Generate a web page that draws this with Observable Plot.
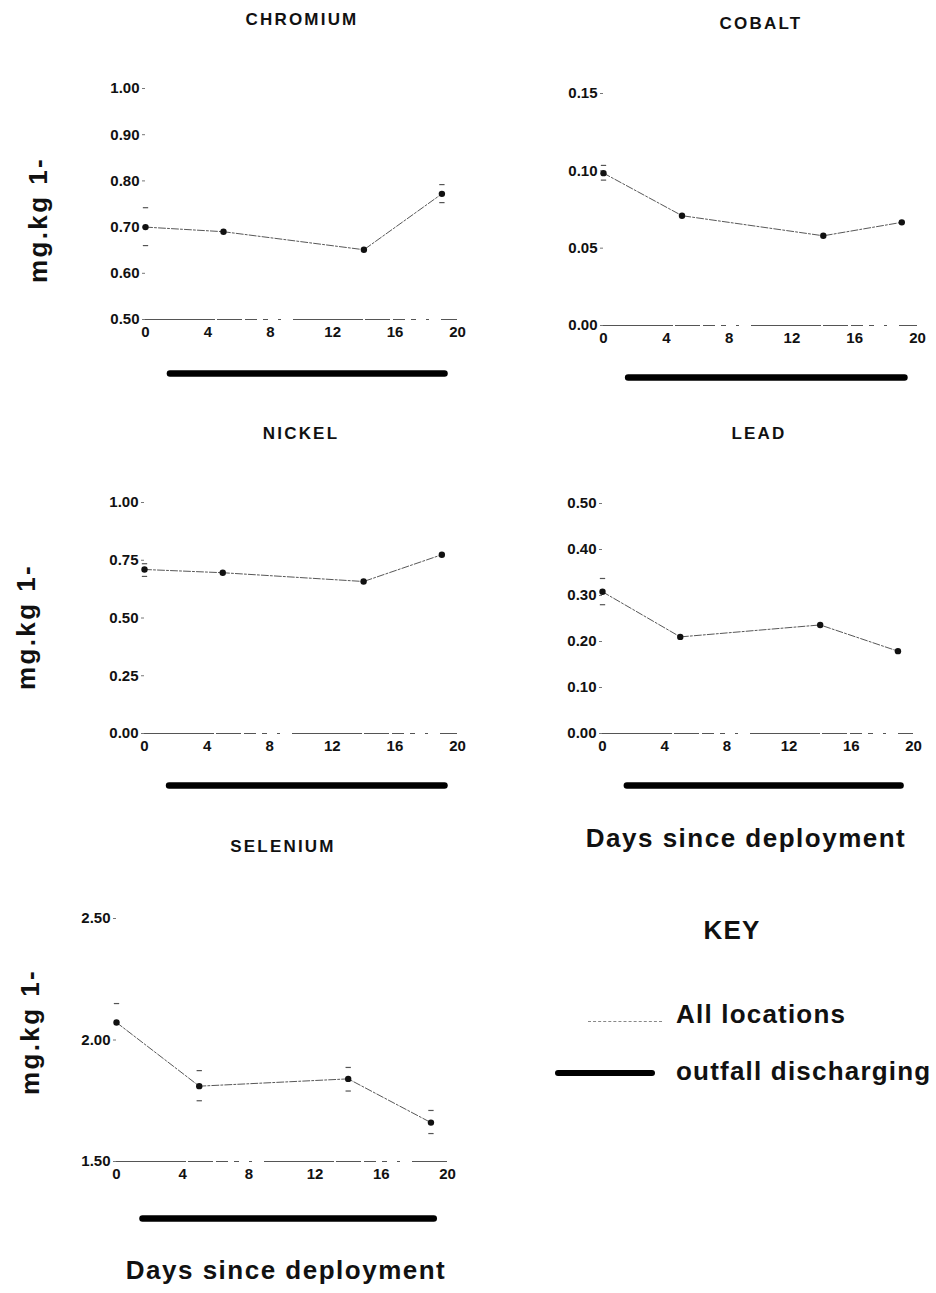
<!DOCTYPE html>
<html>
<head>
<meta charset="utf-8">
<script src="https://cdn.jsdelivr.net/npm/d3@7"></script>
<script src="https://cdn.jsdelivr.net/npm/@observablehq/plot@0.6"></script>
<style>
  html, body { margin: 0; padding: 0; background: #fff; }
  #page { position: relative; width: 936px; height: 1293px; background: #fff; overflow: hidden;
          font-family: "Liberation Sans", Arial, Helvetica, sans-serif; color: #111; }
  .lbl { position: absolute; white-space: nowrap; font-weight: bold; transform: translate(-50%, -50%); line-height: 1; }
  .title { font-size: 17px; letter-spacing: 2.2px; }
  .ylab { font-size: 26px; letter-spacing: 2.4px; transform: translate(-50%, -50%) rotate(-90deg); }
  .xlab { font-size: 26px; letter-spacing: 1.5px; }
  .key { font-size: 26px; letter-spacing: 1.2px; }
  .keytext { position: absolute; white-space: nowrap; font-weight: bold; font-size: 26px; letter-spacing: 1.2px; line-height: 1; transform: translateY(-50%); }
  .sw { position: absolute; }
</style>
</head>
<body>
<div id="page"></div>
<script>
// ---- data ----
const days = [0, 5, 14, 19];
const xTicks = [0, 4, 8, 12, 16, 20];
const outfallStart = 1.6;   // day outfall discharging began
const outfallEnd = 19.2;    // day outfall discharging ended

const chromium   = [0.700, 0.690, 0.651, 0.772];
const chromiumHi = [0.742, null, null, 0.792];
const chromiumLo = [0.660, null, null, 0.753];
const chromiumTicks = [0.50, 0.60, 0.70, 0.80, 0.90, 1.00];

const cobalt   = [0.0985, 0.071, 0.058, 0.0667];
const cobaltHi = [0.1035, null, null, null];
const cobaltLo = [0.094, null, null, null];
const cobaltTicks = [0.00, 0.05, 0.10, 0.15];

const nickel   = [0.710, 0.696, 0.658, 0.774];
const nickelHi = [0.735, null, null, null];
const nickelLo = [0.680, null, null, null];
const nickelTicks = [0.00, 0.25, 0.50, 0.75, 1.00];

const lead   = [0.308, 0.210, 0.236, 0.179];
const leadHi = [0.337, null, null, null];
const leadLo = [0.280, null, null, null];
const leadTicks = [0.00, 0.10, 0.20, 0.30, 0.40, 0.50];

const selenium   = [2.072, 1.810, 1.840, 1.660];
const seleniumHi = [2.150, 1.874, 1.887, 1.710];
const seleniumLo = [null, 1.750, 1.790, 1.615];
const seleniumTicks = [1.50, 2.00, 2.50];

// ---- layout ----
const page = document.getElementById("page");
const fmt = d3.format(".2f");
const dashSymbol = { draw(ctx, size) { const w = Math.sqrt(size) / 2; ctx.moveTo(-w, 0); ctx.lineTo(w, 0); } };

function label(text, cls, cx, cy) {
  const d = document.createElement("div");
  d.className = "lbl " + cls;
  d.textContent = text;
  d.style.left = cx + "px";
  d.style.top = cy + "px";
  page.appendChild(d);
}

function panel(p) {
  const left = p.x0 - 75, right = p.x20 + 28, top = p.yTop - 20, bottom = p.barY + 12;
  const width = right - left, height = bottom - top;
  const pts = days.map((d, i) => ({day: d, v: p.values[i]}));
  const errs = [];
  days.forEach((d, i) => {
    if (p.hi[i] != null) errs.push({day: d, v: p.hi[i]});
    if (p.lo[i] != null) errs.push({day: d, v: p.lo[i]});
  });
  const ymin = p.ticks[0];
  const chart = Plot.plot({
    width, height,
    marginLeft: p.x0 - left, marginRight: right - p.x20,
    marginTop: p.yTop - top, marginBottom: bottom - p.yBot,
    x: {domain: [0, 20]},
    y: {domain: [ymin, p.ticks[p.ticks.length - 1]]},
    style: {fontFamily: "'Liberation Sans', Arial, sans-serif", fontSize: "15px", fontWeight: "bold", color: "#111", background: "transparent", overflow: "visible"},
    marks: [
      Plot.axisY({ticks: p.ticks, tickFormat: fmt, tickSize: 3, tickPadding: 3, stroke: "#777", label: null, fontSize: 15, fontWeight: "bold"}),
      Plot.axisX({ticks: xTicks, tickSize: 0, tickPadding: 7, label: null, fontSize: 15, fontWeight: "bold", letterSpacing: 1}),
      Plot.ruleY([ymin], {stroke: "#555", strokeWidth: 1, strokeDasharray: "70,2,25,3,12,6,5,10,3,12"}),
      Plot.line(pts, {x: "day", y: "v", stroke: "#444", strokeWidth: 0.9, strokeDasharray: "7,2,2,2"}),
      Plot.dot(errs, {x: "day", y: "v", symbol: dashSymbol, r: 3, stroke: "#555", strokeWidth: 1.2}),
      Plot.dot(pts, {x: "day", y: "v", r: 3.2, fill: "#111", stroke: "none"}),
      Plot.ruleY([{y: ymin, x1: outfallStart, x2: outfallEnd}], {y: "y", x1: "x1", x2: "x2", dy: p.barY - p.yBot, stroke: "#000", strokeWidth: 6.5, strokeLinecap: "round"})
    ]
  });
  chart.style.position = "absolute";
  chart.style.left = left + "px";
  chart.style.top = top + "px";
  page.appendChild(chart);
  label(p.title, "title", p.titleX, p.titleY);
}

panel({title: "CHROMIUM", titleX: 302, titleY: 19, values: chromium, hi: chromiumHi, lo: chromiumLo, ticks: chromiumTicks,
       x0: 145, x20: 457, yTop: 88, yBot: 319, barY: 373});
panel({title: "COBALT", titleX: 761, titleY: 23, values: cobalt, hi: cobaltHi, lo: cobaltLo, ticks: cobaltTicks,
       x0: 603, x20: 917, yTop: 93, yBot: 325, barY: 377});
panel({title: "NICKEL", titleX: 301, titleY: 433, values: nickel, hi: nickelHi, lo: nickelLo, ticks: nickelTicks,
       x0: 144, x20: 457, yTop: 502, yBot: 733, barY: 785});
panel({title: "LEAD", titleX: 759, titleY: 433, values: lead, hi: leadHi, lo: leadLo, ticks: leadTicks,
       x0: 602, x20: 913, yTop: 503, yBot: 733, barY: 785});
panel({title: "SELENIUM", titleX: 283, titleY: 846, values: selenium, hi: seleniumHi, lo: seleniumLo, ticks: seleniumTicks,
       x0: 116, x20: 447, yTop: 918, yBot: 1161, barY: 1218});

// axis titles
label("mg.kg 1-", "ylab", 38, 220);
label("mg.kg 1-", "ylab", 26, 627);
label("mg.kg 1-", "ylab", 30, 1032);
label("Days since deployment", "xlab", 746, 838);
label("Days since deployment", "xlab", 286, 1270);

// key
label("KEY", "key", 732, 930);
function keyRow(text, tx, ty, sw) {
  const s = document.createElement("div");
  s.className = "sw";
  Object.assign(s.style, sw);
  page.appendChild(s);
  const t = document.createElement("div");
  t.className = "keytext";
  t.textContent = text;
  t.style.left = tx + "px";
  t.style.top = ty + "px";
  page.appendChild(t);
}
keyRow("All locations", 676, 1014, {left: "588px", top: "1021px", width: "74px", height: "0px", borderTop: "1px dashed #888"});
keyRow("outfall discharging", 676, 1071, {left: "555px", top: "1070px", width: "100px", height: "6px", background: "#000", borderRadius: "3px"});
</script>
</body>
</html>
